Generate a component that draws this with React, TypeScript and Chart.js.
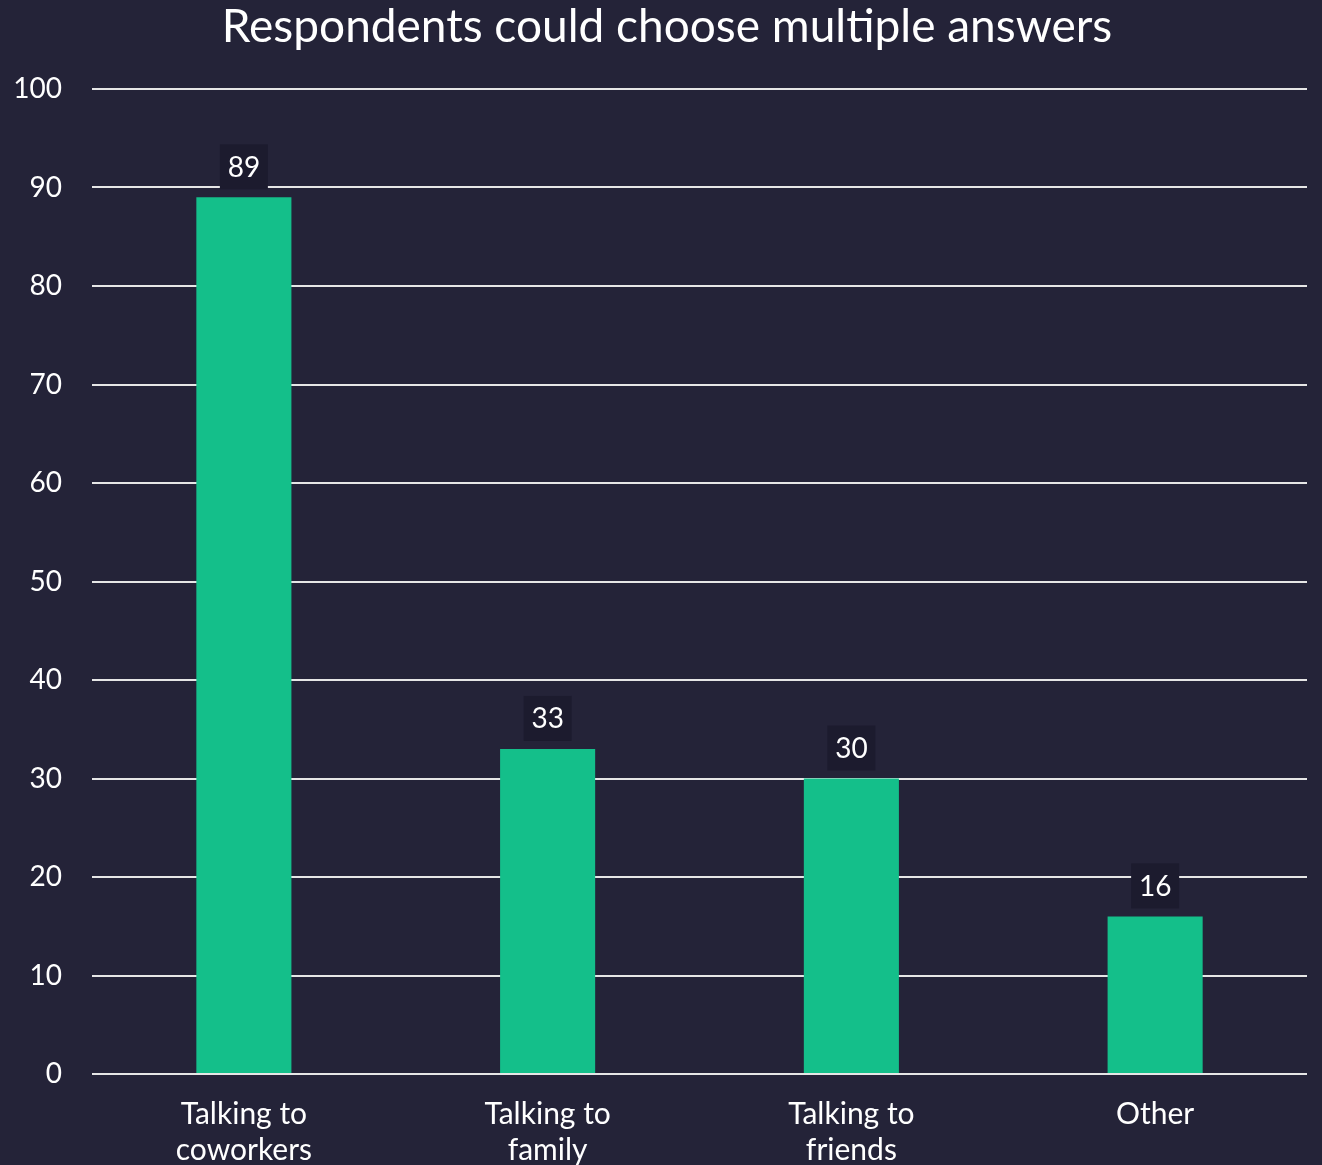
import React, { useEffect, useRef } from "react";
import { Chart, registerables } from "chart.js";

Chart.register(...registerables);

const categories: (string | string[])[] = [
  ["Talking to", "coworkers"],
  ["Talking to", "family"],
  ["Talking to", "friends"],
  "Other",
];
const values: number[] = [89, 33, 30, 16];
const titleText = "Respondents could choose multiple answers";
const yMin = 0;
const yMax = 100;
const yStep = 10;

const BG = "#242338";
const BAR = "#14BF8A";
const LABEL_BG = "#1c1b2e";
const FONT = "Lato, 'Open Sans', sans-serif";

const valueLabelPlugin = {
  id: "valueLabels",
  afterDatasetsDraw(chart: any) {
    const ctx = chart.ctx;
    const meta = chart.getDatasetMeta(0);
    ctx.save();
    ctx.font = `28px ${FONT}`;
    ctx.textAlign = "center";
    ctx.textBaseline = "middle";
    meta.data.forEach((bar: any, i: number) => {
      const txt = String(values[i]);
      const w = 48;
      const h = 45;
      const bx = bar.x - w / 2;
      const by = bar.y - 8 - h;
      ctx.fillStyle = LABEL_BG;
      ctx.fillRect(bx, by, w, h);
      ctx.fillStyle = "#ffffff";
      ctx.fillText(txt, bar.x, by + h / 2 + 1);
    });
    ctx.restore();
  },
};

const bgPlugin = {
  id: "bgFill",
  beforeDraw(chart: any) {
    const ctx = chart.ctx;
    ctx.save();
    ctx.fillStyle = BG;
    ctx.fillRect(0, 0, chart.width, chart.height);
    ctx.restore();
  },
};

const titlePlugin = {
  id: "centerTitle",
  afterDraw(chart: any) {
    const ctx = chart.ctx;
    ctx.save();
    ctx.font = `46px ${FONT}`;
    ctx.fillStyle = "#ffffff";
    ctx.textAlign = "center";
    ctx.textBaseline = "middle";
    ctx.fillText(titleText, chart.width / 2 + 6, 27);
    ctx.restore();
  },
};

export default function App() {
  const ref = useRef<HTMLCanvasElement | null>(null);
  useEffect(() => {
    document.body.style.margin = "0";
    document.body.style.background = BG;
    if (!ref.current) return;
    const chart = new Chart(ref.current, {
      type: "bar",
      data: {
        labels: categories,
        datasets: [
          {
            data: values,
            backgroundColor: BAR,
            borderWidth: 0,
            barPercentage: 0.313,
            categoryPercentage: 1,
          },
        ],
      },
      options: {
        animation: false,
        responsive: false,
        layout: { padding: { left: 0, right: 15, top: 89, bottom: 0 } },
        plugins: {
          legend: { display: false },
          tooltip: { enabled: false },
          title: { display: false },
        },
        scales: {
          x: {
            grid: { display: false, drawTicks: false },
            border: { display: false },
            ticks: {
              color: "#ffffff",
              font: { family: FONT, size: 30, lineHeight: 1.2 },
              padding: 22,
              maxRotation: 0,
              autoSkip: false,
            },
            afterFit(scale: any) {
              scale.height = 91;
            },
          },
          y: {
            min: yMin,
            max: yMax,
            grid: { color: "#e6e6e6", lineWidth: 2, drawTicks: false },
            border: { display: false },
            ticks: {
              stepSize: yStep,
              color: "#ffffff",
              font: { family: FONT, size: 28 },
              padding: 30,
            },
            afterFit(scale: any) {
              scale.width = 92;
            },
          },
        },
      },
      plugins: [bgPlugin, valueLabelPlugin, titlePlugin],
    });
    return () => chart.destroy();
  }, []);
  return <canvas ref={ref} width={1322} height={1165} style={{ display: "block" }} />;
}
